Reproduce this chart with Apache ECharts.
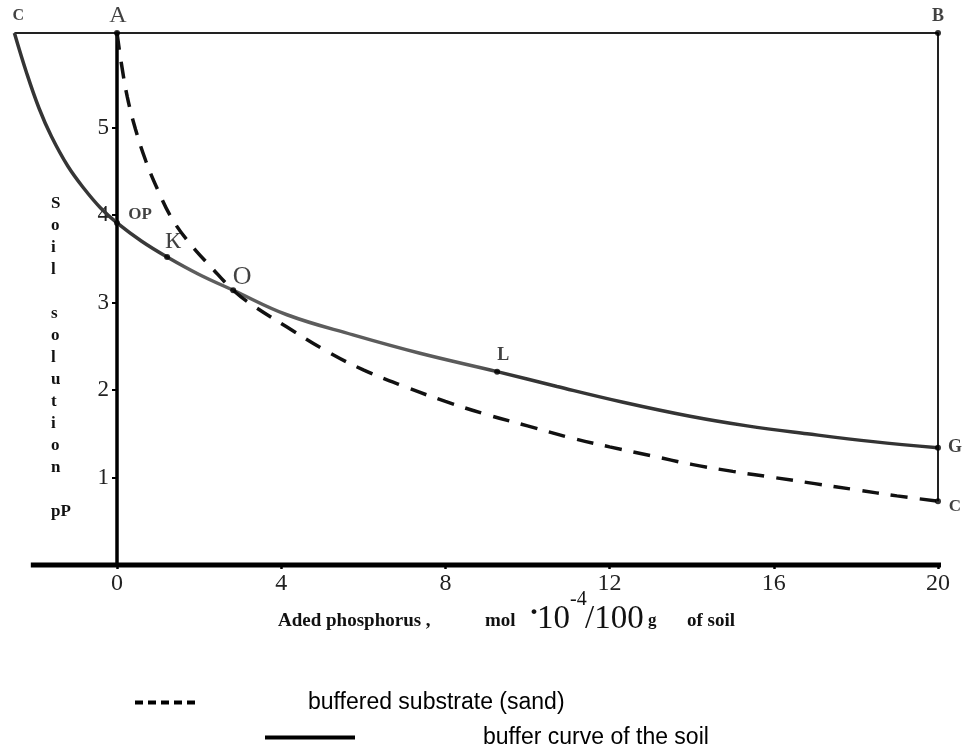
<!DOCTYPE html>
<html>
<head>
<meta charset="utf-8">
<script src="https://cdn.jsdelivr.net/npm/echarts@6/dist/echarts.min.js"></script>
<style>
html,body{margin:0;padding:0;background:#fff;}
#chart{width:966px;height:747px;}
</style>
</head>
<body>
<div id="chart"></div>
<script>
// ---------- data ----------
const xTickValues = [0, 4, 8, 12, 16, 20];
const yTickValues = [1, 2, 3, 4, 5];
const xMin = -2.5, xMax = 20, yMin = 0, yMax = 6.08;

// buffer curve of the soil (solid)
const soilX = [-2.5, -2.2, -1.9, -1.6, -1.2, -0.8, -0.4, 0, 0.6, 1.22, 2.0, 2.83, 4.14, 5.75, 7.38, 9.26, 10.72, 12.33, 13.96, 15.35, 16.81, 18.42, 20.0];
const soilY = [6.08, 5.62, 5.22, 4.90, 4.56, 4.30, 4.08, 3.91, 3.70, 3.52, 3.32, 3.14, 2.86, 2.63, 2.42, 2.21, 2.04, 1.86, 1.70, 1.59, 1.50, 1.41, 1.34];

// buffered substrate (sand) (dashed)
const sandX = [0, 0.1, 0.25, 0.45, 0.7, 1.0, 1.35, 1.8, 2.3, 2.83, 3.3, 4.14, 5.12, 6.0, 7.0, 8.0, 9.0, 10.0, 11.0, 12.0, 13.0, 14.0, 15.0, 16.0, 17.0, 18.0, 19.0, 20.0];
const sandY = [6.08, 5.75, 5.35, 4.98, 4.62, 4.28, 3.95, 3.66, 3.40, 3.14, 2.97, 2.72, 2.44, 2.23, 2.04, 1.87, 1.72, 1.59, 1.46, 1.35, 1.25, 1.15, 1.07, 1.00, 0.93, 0.86, 0.79, 0.73];

// frame lines (C -> A -> B on top, B -> C down the right side)
const frameX = [-2.5, 20, 20];
const frameY = [6.08, 6.08, 0.73];
const xAxisLineX = [-2.1, 20.1];
const xAxisLineY = [0, 0];

// labelled points
const pointNames = ['Ctop', 'A', 'B', 'OP', 'K', 'O', 'L', 'G', 'Cbot'];
const pointText  = ['C', 'A', 'B', 'OP', 'К', 'O', 'L', 'G', 'C'];
const pointX = [-2.5, 0, 20, 0, 1.22, 2.83, 9.26, 20, 20];
const pointY = [6.08, 6.08, 6.08, 3.91, 3.52, 3.14, 2.21, 1.34, 0.73];

const legendSand = 'buffered substrate (sand)';
const legendSoil = 'buffer curve of the soil';

// ---------- styles ----------
const SERIF = '"Liberation Serif", "Times New Roman", serif';
const SANS = '"Liberation Sans", Arial, sans-serif';
const labelStyles = {
  Ctop: {offset: [4, -17], fontWeight: 'bold', fontSize: 16, dot: 0},
  A:    {offset: [1, -17], fontWeight: 'normal', fontSize: 24, dot: 6},
  B:    {offset: [0, -17], fontWeight: 'bold', fontSize: 18, dot: 6},
  OP:   {offset: [23, -8], fontWeight: 'bold', fontSize: 17, dot: 6},
  K:    {offset: [6, -15], fontWeight: 'normal', fontSize: 24, dot: 6},
  O:    {offset: [9, -13], fontWeight: 'normal', fontSize: 26, dot: 6},
  L:    {offset: [6, -16], fontWeight: 'bold', fontSize: 18, dot: 6},
  G:    {offset: [17, 0], fontWeight: 'bold', fontSize: 18, dot: 6},
  Cbot: {offset: [17, 5], fontWeight: 'bold', fontSize: 17, dot: 6}
};

const zip = (xs, ys) => xs.map((x, i) => [x, ys[i]]);

const pointData = pointNames.map((n, i) => {
  const s = labelStyles[n];
  return {
    name: n,
    value: [pointX[i], pointY[i]],
    symbolSize: s.dot,
    label: {
      show: true,
      formatter: pointText[i],
      position: 'inside',
      offset: s.offset,
      align: 'center',
      verticalAlign: 'middle',
      fontFamily: SERIF,
      fontWeight: s.fontWeight,
      fontSize: s.fontSize,
      color: '#111'
    }
  };
});

const chart = echarts.init(document.getElementById('chart'), null, {renderer: 'canvas'});

const option = {
  backgroundColor: '#fff',
  animation: false,
  grid: [
    {left: 14.4, right: 28, top: 33, bottom: 182, containLabel: false, outerBoundsMode: 'none'},
    {left: 117, right: 28, top: 33, bottom: 182, containLabel: false, outerBoundsMode: 'none'}
  ],
  xAxis: [
    {
      gridIndex: 0, type: 'value', min: xMin, max: xMax,
      splitLine: {show: false},
      axisLine: {show: false},
      axisTick: {show: true, customValues: xTickValues, length: 4, lineStyle: {color: '#000', width: 2.5}},
      axisLabel: {customValues: xTickValues, margin: 7, fontFamily: SERIF, fontSize: 24, color: '#222'}
    },
    {gridIndex: 1, type: 'value', min: 0, max: 1, show: false}
  ],
  yAxis: [
    {gridIndex: 0, type: 'value', min: yMin, max: yMax, show: false},
    {
      gridIndex: 1, type: 'value', min: yMin, max: yMax,
      splitLine: {show: false},
      axisLine: {show: true, onZero: false, lineStyle: {color: '#000', width: 3.5}},
      axisTick: {show: true, customValues: yTickValues, length: 5, lineStyle: {color: '#000', width: 2}},
      axisLabel: {customValues: yTickValues, margin: 8, fontFamily: SERIF, fontSize: 23, color: '#222'}
    }
  ],
  legend: [
    {
      data: [{name: legendSand, icon: 'path://M0 0H8V4H0Z M13 0H21V4H13Z M26 0H34V4H26Z M39 0H47V4H39Z M52 0H60V4H52Z'}],
      left: 135, top: 691, padding: 0, selectedMode: false,
      itemWidth: 60, itemHeight: 4,
      itemStyle: {color: '#000'},
      textStyle: {fontFamily: SANS, fontSize: 23, color: '#000', padding: [0, 0, 0, 108]}
    },
    {
      data: [{name: legendSoil, icon: 'path://M0 0H90V4H0Z'}],
      left: 265, top: 726, padding: 0, selectedMode: false,
      itemWidth: 90, itemHeight: 4,
      itemStyle: {color: '#000'},
      textStyle: {fontFamily: SANS, fontSize: 23, color: '#000', padding: [0, 0, 0, 123]}
    }
  ],
  graphic: [
    {type: 'text', left: 51, top: 193, silent: true,
     style: {text: 'S\no\ni\nl\n\ns\no\nl\nu\nt\ni\no\nn\n\npP', font: 'bold 17px ' + SERIF, lineHeight: 22, fill: '#111', align: 'left'}},
    {type: 'text', x: 278, y: 621, silent: true,
     style: {text: 'Aded phosphorus ,', font: 'bold 19px ' + SERIF, fill: '#111', verticalAlign: 'middle'}},
    {type: 'text', x: 485, y: 621, silent: true,
     style: {text: 'mol', font: 'bold 19px ' + SERIF, fill: '#111', verticalAlign: 'middle'}},
    {type: 'text', x: 529, y: 613, silent: true,
     style: {text: '·', font: 'bold 30px ' + SERIF, fill: '#111', verticalAlign: 'middle'}},
    {type: 'text', x: 537, y: 619, silent: true,
     style: {text: '10', font: '33px ' + SERIF, fill: '#111', verticalAlign: 'middle'}},
    {type: 'text', x: 570, y: 600, silent: true,
     style: {text: '-4', font: '20px ' + SERIF, fill: '#111', verticalAlign: 'middle'}},
    {type: 'text', x: 585, y: 619, silent: true,
     style: {text: '/100', font: '33px ' + SERIF, fill: '#111', verticalAlign: 'middle'}},
    {type: 'text', x: 648, y: 621, silent: true,
     style: {text: 'g', font: 'bold 17px ' + SERIF, fill: '#111', verticalAlign: 'middle'}},
    {type: 'text', x: 687, y: 621, silent: true,
     style: {text: 'of soil', font: 'bold 19px ' + SERIF, fill: '#111', verticalAlign: 'middle'}}
  ],
  series: [
    {
      name: 'frame', type: 'line', data: zip(frameX, frameY), symbol: 'none', silent: true, clip: false,
      lineStyle: {color: '#222', width: 2}, z: 1
    },
    {
      name: 'xaxisline', type: 'line', data: zip(xAxisLineX, xAxisLineY), symbol: 'none', silent: true, clip: false,
      lineStyle: {color: '#000', width: 5}, z: 3
    },
    {
      name: legendSoil, type: 'line', data: zip(soilX, soilY), symbol: 'none', smooth: 0.4, clip: false,
      lineStyle: {
        width: 3.5,
        color: new echarts.graphic.LinearGradient(0, 0, 1, 0, [
          {offset: 0, color: '#333'}, {offset: 0.16, color: '#3a3a3a'},
          {offset: 0.19, color: '#5e5e5e'}, {offset: 0.5, color: '#5a5a5a'},
          {offset: 0.53, color: '#353535'}, {offset: 1, color: '#333'}
        ])
      },
      itemStyle: {color: '#000'}, z: 2
    },
    {
      name: legendSand, type: 'line', data: zip(sandX, sandY), symbol: 'none', smooth: 0.4, clip: false,
      lineStyle: {width: 3.5, color: '#111', type: [17, 12]},
      itemStyle: {color: '#000'}, z: 2
    },
    {
      name: 'points', type: 'scatter', data: pointData, symbol: 'circle',
      itemStyle: {color: '#000'}, z: 5, clip: false
    }
  ]
};
chart.setOption(option);
</script>
</body>
</html>
